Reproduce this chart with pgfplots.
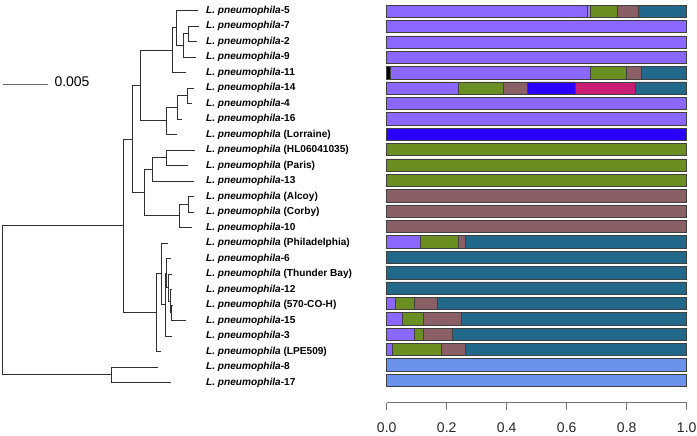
\documentclass[border=0pt]{standalone}
\usepackage{fontspec}
\setmainfont{Liberation Sans}
\usepackage{pgfplots}
\usepackage{pgfplotstable}
\pgfplotsset{compat=1.18}

\definecolor{cblack}{HTML}{000000}
\definecolor{cpurple}{HTML}{8B66FF}
\definecolor{csliver}{HTML}{9C8FC8}
\definecolor{cgreen}{HTML}{6B8E23}
\definecolor{cmauve}{HTML}{8B5F66}
\definecolor{cblue}{HTML}{2A00FF}
\definecolor{cmag}{HTML}{C81E73}
\definecolor{cteal}{HTML}{21688B}
\definecolor{clblue}{HTML}{6A92EA}
\definecolor{treec}{HTML}{303030}

% row: 24 = top (L. pneumophila-5) ... 0 = bottom (L. pneumophila-17)
\pgfplotstableread{
row black purple sliver green mauve blue magenta teal lblue
24 0     0.667 0.011 0.091 0.070 0     0     0.161 0
23 0     1     0     0     0     0     0     0     0
22 0     1     0     0     0     0     0     0     0
21 0     1     0     0     0     0     0     0     0
20 0.011 0.667 0     0.120 0.050 0     0     0.152 0
19 0     0.240 0     0.149 0.079 0.161 0.200 0.171 0
18 0     1     0     0     0     0     0     0     0
17 0     1     0     0     0     0     0     0     0
16 0     0     0     0     0     1     0     0     0
15 0     0     0     1     0     0     0     0     0
14 0     0     0     1     0     0     0     0     0
13 0     0     0     1     0     0     0     0     0
12 0     0     0     0     1     0     0     0     0
11 0     0     0     0     1     0     0     0     0
10 0     0     0     0     1     0     0     0     0
9  0     0.111 0     0.129 0.022 0     0     0.738 0
8  0     0     0     0     0     0     0     1     0
7  0     0     0     0     0     0     0     1     0
6  0     0     0     0     0     0     0     1     0
5  0     0.030 0     0.062 0.078 0     0     0.830 0
4  0     0.051 0     0.071 0.128 0     0     0.750 0
3  0     0.092 0     0.030 0.098 0     0     0.780 0
2  0     0.020 0     0.161 0.081 0     0     0.738 0
1  0     0     0     0     0     0     0     0     1
0  0     0     0     0     0     0     0     0     1
}\bars

\newcommand{\lab}{\fontsize{10.1bp}{12bp}\selectfont}
\newcommand{\lp}[1]{\textbf{\textit{L. pneumophila}#1}}

\begin{document}
\begin{tikzpicture}
\useasboundingbox (0,0) rectangle (697bp,-436bp);

% ---------------- tree ----------------
\begin{axis}[at={(0bp,-436bp)}, anchor=south west,
  width=697bp, height=436bp, scale only axis,
  xmin=0, xmax=697, ymin=0, ymax=436, y dir=reverse,
  hide axis, clip=false,
  tr/.style={treec, line width=1.0bp, mark=none, solid, line join=miter}]
% internal nodes as brackets
\addplot[tr] coordinates {(199,26) (188,26) (188,41.5) (197,41.5)};
\addplot[tr] coordinates {(188,33.75) (183,33.75) (183,57) (196,57)};
\addplot[tr] coordinates {(198,10.5) (176.5,10.5) (176.5,45.375) (183,45.375)};
\addplot[tr] coordinates {(176.5,27.94) (172.5,27.94) (172.5,72.5) (186,72.5)};
\addplot[tr] coordinates {(194,88) (187,88) (187,103.5) (192,103.5)};
\addplot[tr] coordinates {(187,95.75) (177,95.75) (177,119) (182,119)};
\addplot[tr] coordinates {(177,107.375) (166.5,107.375) (166.5,134.5) (177,134.5)};
\addplot[tr] coordinates {(172.5,50.22) (140,50.22) (140,120.94) (166.5,120.94)};
\addplot[tr] coordinates {(195,150) (166,150) (166,165.5) (187.5,165.5)};
\addplot[tr] coordinates {(166,157.75) (152.5,157.75) (152.5,181) (193.5,181)};
\addplot[tr] coordinates {(194,196.5) (188.5,196.5) (188.5,212) (193.5,212)};
\addplot[tr] coordinates {(188.5,204.25) (179.5,204.25) (179.5,227.5) (191.5,227.5)};
\addplot[tr] coordinates {(152.5,169.375) (144.3,169.375) (144.3,215.875) (179.5,215.875)};
\addplot[tr] coordinates {(140,85.58) (132,85.58) (132,192.625) (144.3,192.625)};
\addplot[tr] coordinates {(172.5,305) (171,305) (171,320.5) (185.5,320.5)};
\addplot[tr] coordinates {(172,289.5) (170,289.5) (170,312.75) (171,312.75)};
\addplot[tr] coordinates {(171.7,274) (168.5,274) (168.5,301.125) (170,301.125)};
\addplot[tr] coordinates {(170.7,258.5) (166.3,258.5) (166.3,287.56) (168.5,287.56)};
\addplot[tr] coordinates {(166.3,273.03) (165,273.03) (165,336) (172.3,336)};
\addplot[tr] coordinates {(167.5,243) (161,243) (161,304.52) (165,304.52)};
\addplot[tr] coordinates {(161,273.76) (156.7,273.76) (156.7,351.5) (161,351.5)};
\addplot[tr] coordinates {(132,139.1) (123.5,139.1) (123.5,312.63) (156.7,312.63)};
\addplot[tr] coordinates {(157.7,367) (111,367) (111,382.5) (170.7,382.5)};
\addplot[tr] coordinates {(123.5,225.87) (2,225.87) (2,374.75) (111,374.75)};
% scale bar
\addplot[black!60, line width=1.1bp, mark=none, solid] coordinates {(2.7,84.3) (48.3,84.3)};
\node[anchor=mid west, inner sep=0pt, font=\fontsize{14bp}{16bp}\selectfont] at (axis cs:54.3,84.3) {0.005};
% tip labels
\begin{scope}[every node/.style={anchor=mid west, inner sep=0pt, font=\lab}]
\node at (axis cs:206,10.5)  {\lp{-5}};
\node at (axis cs:206,26)    {\lp{-7}};
\node at (axis cs:206,41.5)  {\lp{-2}};
\node at (axis cs:206,57)    {\lp{-9}};
\node at (axis cs:206,72.5)  {\lp{-11}};
\node at (axis cs:206,88)    {\lp{-14}};
\node at (axis cs:206,103.5) {\lp{-4}};
\node at (axis cs:206,119)   {\lp{-16}};
\node at (axis cs:206,134.5) {\lp{ (Lorraine)}};
\node at (axis cs:206,150)   {\lp{ (HL06041035)}};
\node at (axis cs:206,165.5) {\lp{ (Paris)}};
\node at (axis cs:206,181)   {\lp{-13}};
\node at (axis cs:206,196.5) {\lp{ (Alcoy)}};
\node at (axis cs:206,212)   {\lp{ (Corby)}};
\node at (axis cs:206,227.5) {\lp{-10}};
\node at (axis cs:206,243)   {\lp{ (Philadelphia)}};
\node at (axis cs:206,258.5) {\lp{-6}};
\node at (axis cs:206,274)   {\lp{ (Thunder Bay)}};
\node at (axis cs:206,289.5) {\lp{-12}};
\node at (axis cs:206,305)   {\lp{ (570-CO-H)}};
\node at (axis cs:206,320.5) {\lp{-15}};
\node at (axis cs:206,336)   {\lp{-3}};
\node at (axis cs:206,351.5) {\lp{ (LPE509)}};
\node at (axis cs:206,367)   {\lp{-8}};
\node at (axis cs:206,382.5) {\lp{-17}};
\end{scope}
\end{axis}

% ---------------- bars ----------------
\begin{axis}[at={(386.7bp,0bp)}, anchor=north west,
  width=300bp, height=402.7bp, scale only axis,
  xmin=0, xmax=1, ymin=-1.456, ymax=24.728,
  xbar stacked, bar width=0.8,
  axis y line=none, axis x line*=bottom,
  x axis line style={black!55, line width=0.8bp, -},
  xtick={0,0.2,0.4,0.6,0.8,1},
  tick align=outside, major tick length=7.3bp,
  tick style={black!55, line width=0.8bp},
  xticklabel style={font=\fontsize{14bp}{16bp}\selectfont, text=black!85, yshift=-9bp},
  /pgf/number format/.cd, fixed, fixed zerofill, precision=1, assume math mode=true,
  /pgfplots/.cd,
  clip=false,
  every axis plot/.append style={draw=black!75, line width=0.6bp}]
\addplot[fill=cblack]  table[x=black,  y=row] {\bars};
\addplot[fill=cpurple] table[x=purple, y=row] {\bars};
\addplot[fill=csliver] table[x=sliver, y=row] {\bars};
\addplot[fill=cgreen]  table[x=green,  y=row] {\bars};
\addplot[fill=cmauve]  table[x=mauve,  y=row] {\bars};
\addplot[fill=cblue]   table[x=blue,   y=row] {\bars};
\addplot[fill=cmag]    table[x=magenta,y=row] {\bars};
\addplot[fill=cteal]   table[x=teal,   y=row] {\bars};
\addplot[fill=clblue]  table[x=lblue,  y=row] {\bars};
\end{axis}
\end{tikzpicture}
\end{document}
